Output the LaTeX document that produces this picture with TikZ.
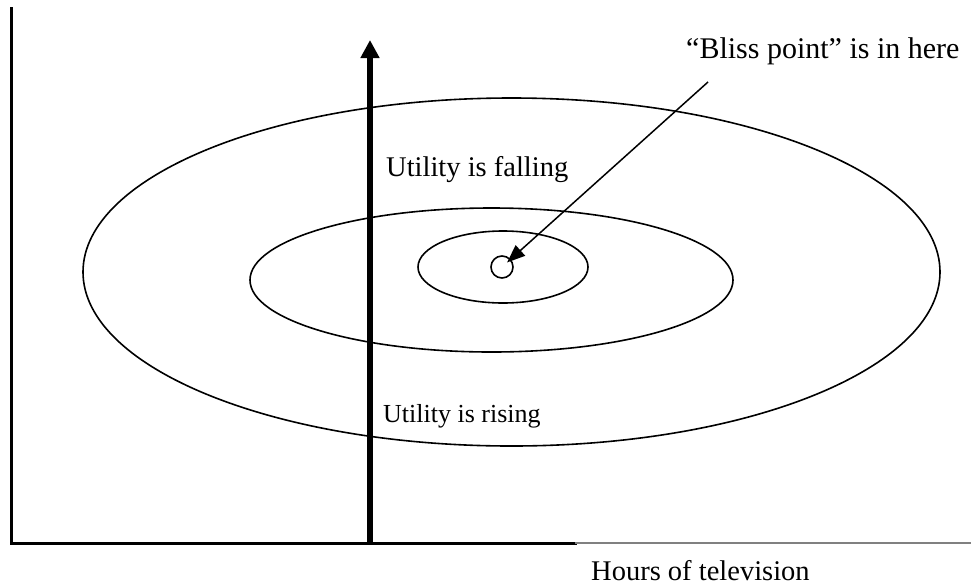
\documentclass[tikz,border=0pt]{standalone}
\usepackage{fontspec}
\setmainfont{Liberation Serif}
\usetikzlibrary{arrows.meta}
\begin{document}
\begin{tikzpicture}[x=1pt,y=-1pt,
  axis/.style={line width=3pt},
  curve/.style={line width=1.6pt},
  bigtext/.style={inner sep=0pt,font=\fontsize{30}{36}\selectfont},
  midtext/.style={inner sep=0pt,font=\fontsize{28.5}{34}\selectfont},
  smalltext/.style={inner sep=0pt,font=\fontsize{26}{31}\selectfont}]
\useasboundingbox (0,0) rectangle (971,587);
% axes
\coordinate (ytop) at (11,8);
\coordinate (origin) at (11,543);
\coordinate (xmid) at (575,543);
\coordinate (xend) at (971,543);
\draw[axis,line cap=rect] (ytop) -- (origin) -- (xmid);
\draw[line width=1.5pt,gray] (xmid) -- (xend);
% thick vertical arrow
\coordinate (abot) at (370,543);
\coordinate (atop) at (370,40);
\draw[line width=6pt,-{Triangle[length=18pt,width=18pt]}] (abot) -- (atop);
% ellipses
\draw[curve] (511.5,272) ellipse [x radius=428.5,y radius=174];
\draw[curve] (491.5,280) ellipse [x radius=241.5,y radius=72];
\draw[curve] (503,267) ellipse [x radius=85,y radius=36];
% bliss point
\node[draw,circle,curve,minimum size=22pt,inner sep=0pt] (bliss) at (502,267) {};
\coordinate (bstart) at (708,82);
\draw[line width=1.5pt,-{Triangle[length=18pt,width=14pt]},shorten >=-5pt] (bstart) -- (bliss);
% texts
\node[bigtext,anchor=base west] (blisslabel) at (686,58) {“Bliss point” is in here};
\node[midtext,anchor=base west] (falling) at (386,176) {Utility is falling};
\node[smalltext,anchor=base west] (rising) at (383,422) {Utility is rising};
\node[midtext,anchor=base west] (hours) at (591,580) {Hours of television};
\end{tikzpicture}
\end{document}
